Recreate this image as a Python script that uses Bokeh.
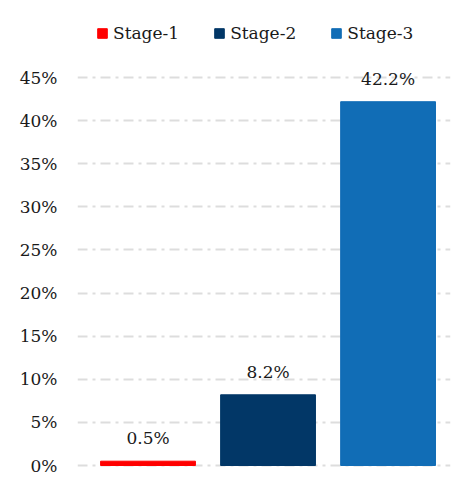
from bokeh.plotting import figure
from bokeh.models import ColumnDataSource, Range1d, FixedTicker, CustomJSTickFormatter
from bokeh.core.properties import value
from bokeh.embed import file_html
from bokeh.resources import INLINE

stages = ["Stage-1", "Stage-2", "Stage-3"]
values = [0.5, 8.2, 42.2]
labels = ["0.5%", "8.2%", "42.2%"]
colors = ["#ff0000", "#023767", "#116db6"]
yticks = [0, 5, 10, 15, 20, 25, 30, 35, 40, 45]

FONT = "DejaVu Serif"

src = ColumnDataSource(dict(x=[0, 1, 2], top=values, stage=stages, color=colors, label=labels))

p = figure(width=453, height=479, output_backend="svg", toolbar_location=None,
           x_range=Range1d(-0.5875, 2.52), y_range=Range1d(-0.58, 52.2),
           min_border_left=77, min_border_right=3, min_border_top=15, min_border_bottom=9)
p.outline_line_color = None
p.xaxis.visible = False
p.xgrid.visible = False

p.vbar(x="x", top="top", bottom=0, width=0.79, color="color", source=src, legend_field="stage")
p.text(x="x", y="top", text="label", source=src, text_align="center", text_baseline="middle",
       y_offset=-23, text_font=value(FONT), text_font_size="17px", text_color="#1a1a1a")

p.yaxis.ticker = FixedTicker(ticks=yticks)
p.yaxis.formatter = CustomJSTickFormatter(code="return tick + '%';")
p.yaxis.axis_line_color = None
p.yaxis.major_tick_line_color = None
p.yaxis.minor_tick_line_color = None
p.yaxis.major_label_standoff = 14
p.yaxis.major_label_text_font = FONT
p.yaxis.major_label_text_font_size = "17px"
p.yaxis.major_label_text_color = "#1a1a1a"

p.ygrid.grid_line_color = "#dddddd"
p.ygrid.grid_line_width = 2
p.ygrid.grid_line_dash = "10 5 3 5"

leg = p.legend[0]
leg.location = (19, 427)
leg.orientation = "horizontal"
leg.border_line_color = None
leg.background_fill_alpha = 0
leg.label_text_font = FONT
leg.label_text_font_size = "17px"
leg.label_text_color = "#1a1a1a"
leg.glyph_width = 12
leg.glyph_height = 12
leg.spacing = 34
leg.label_standoff = 5
leg.padding = 0
leg.margin = 0

open("out.html", "w").write(file_html(p, INLINE))
